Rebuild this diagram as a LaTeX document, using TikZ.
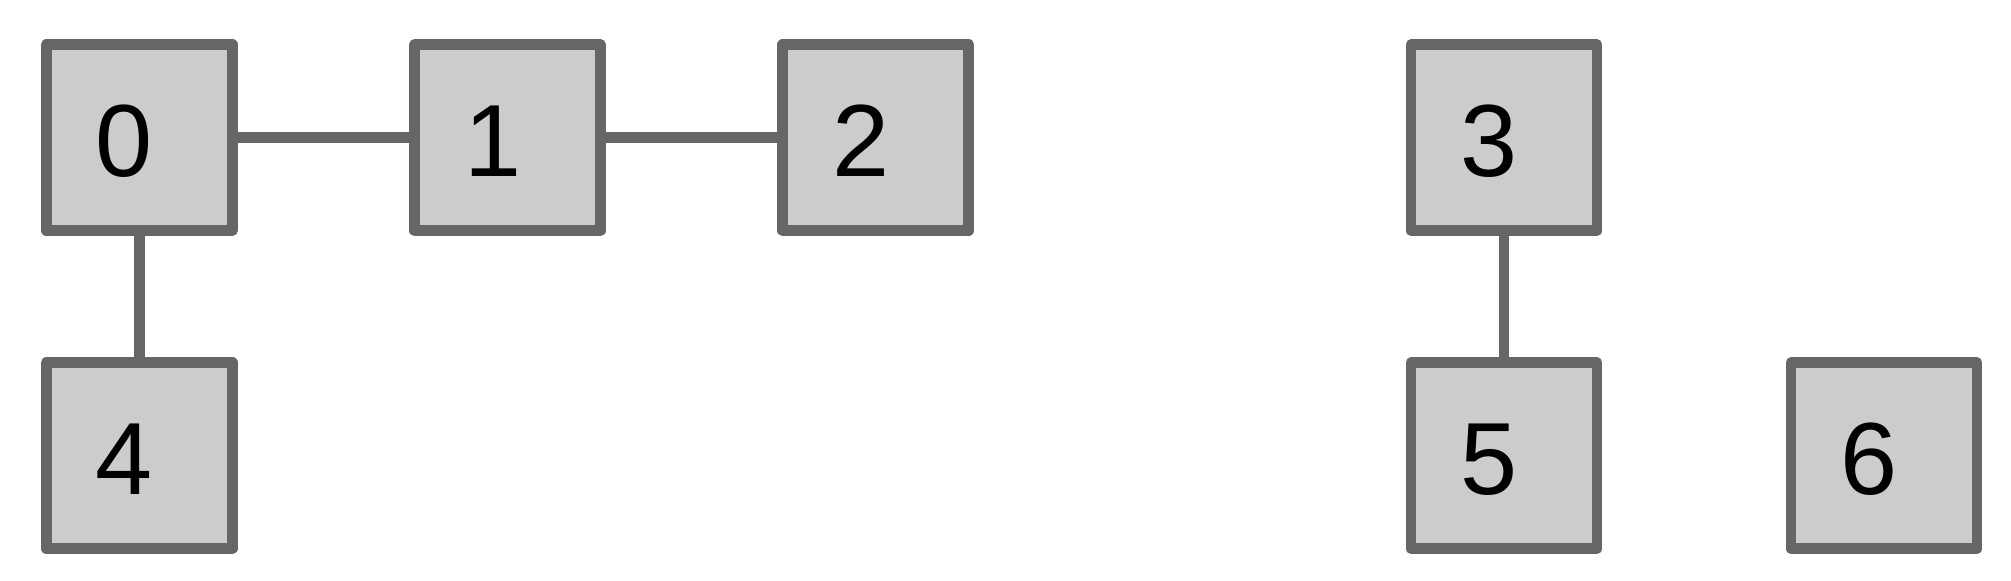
\documentclass[tikz,border=0pt]{standalone}
\usepackage{fontspec}
\setmainfont{Liberation Sans}
\usepackage{tikz}
\definecolor{cellfill}{HTML}{CCCCCC}
\definecolor{celldraw}{HTML}{666666}

\begin{document}
\begin{tikzpicture}[x=0.5pt,y=-0.5pt,
  cell/.style={draw=celldraw,fill=cellfill,line width=5.35pt,line join=round,
    minimum width=93pt,minimum height=93pt,inner xsep=24.8pt,inner ysep=0pt,
    text width=43.4pt,align=left,text height=38.5pt,text depth=0pt,
    font=\fontsize{51.3}{60}\selectfont},
  link/.style={draw=celldraw,line width=5.35pt}]
\useasboundingbox (0,0) rectangle (2011,581);
\foreach \n/\x/\y in {0/139.2/137.7, 1/507.5/137.7, 2/875.7/137.7, 3/1504/137.7,
  4/139.2/455.7, 5/1504/455.7, 6/1884/455.7}
  \node[cell] (n\n) at (\x,\y) {\n};
\draw[link] (n0.east) -- (n1.west);	% top row
\draw[link] (n1.east) -- (n2.west);
\draw[link] (n0.south) -- (n4.north);	% down links
\draw[link] (n3.south) -- (n5.north);
\end{tikzpicture}
\end{document}
